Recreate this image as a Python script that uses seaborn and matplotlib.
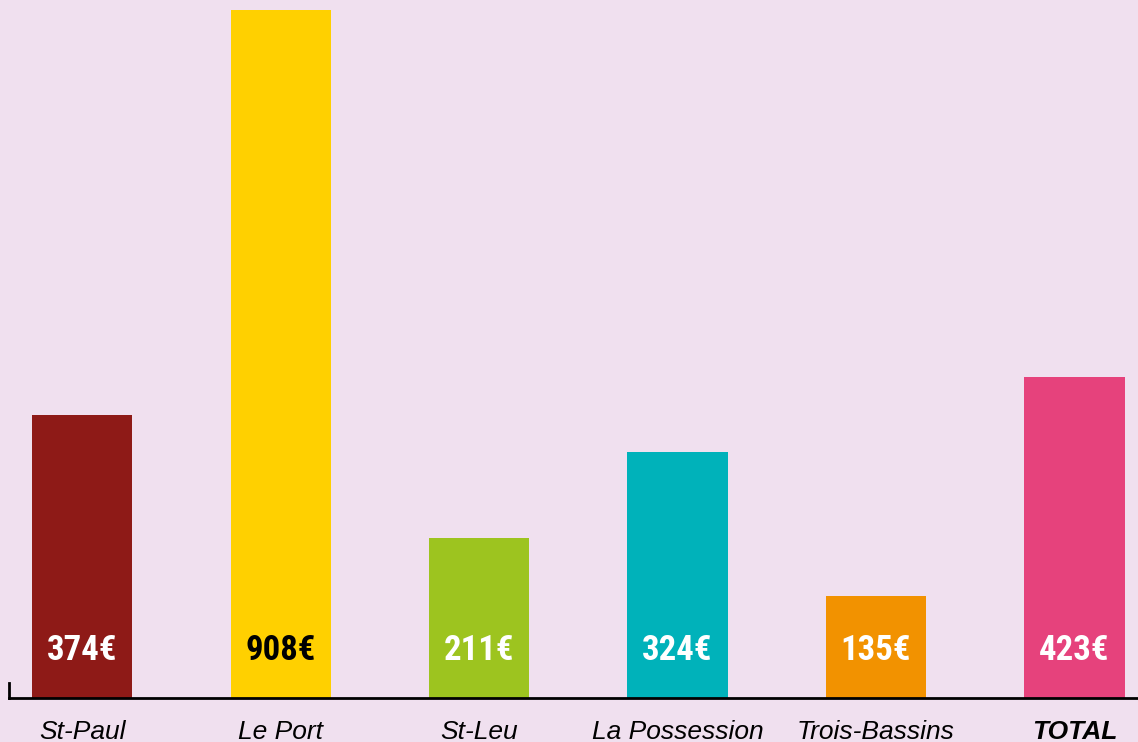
import pandas as pd
import matplotlib.pyplot as plt
import seaborn as sns

communes = ['St-Paul', 'Le Port', 'St-Leu', 'La Possession', 'Trois-Bassins', 'TOTAL']
montants = [374, 908, 211, 324, 135, 423]
couleurs = ['#8E1A17', '#FFD000', '#9DC41F', '#00B2BA', '#F29200', '#E6427C']
couleurs_texte = ['white', 'black', 'white', 'white', 'white', 'white']

bg = '#F0E0EF'

df = pd.DataFrame({'commune': communes, 'montant': montants})

sns.set_style('white')
plt.rcParams['font.family'] = ['Liberation Sans', 'DejaVu Sans']

fig = plt.figure(figsize=(11.38, 7.42), dpi=100, facecolor=bg)
ax = fig.add_axes([9 / 1138, 44 / 742, 1129 / 1138, 698 / 742])
ax.set_facecolor(bg)

sns.barplot(data=df, x='commune', y='montant', hue='commune', palette=couleurs,
            legend=False, width=0.504, saturation=1, linewidth=0, ax=ax)

ax.set_xlim(-0.368, 5.32)
ax.set_ylim(0, 921)

# valeurs dans les barres
for i, (v, c) in enumerate(zip(montants, couleurs_texte)):
    ax.text(i, 63, f'{v}€', ha='center', va='center', color=c, fontsize=25,
            fontweight='bold',
            family=['Roboto Condensed', 'Liberation Sans Narrow', 'Roboto', 'DejaVu Sans'])

ax.set_yticks([])
ax.set_xticks(range(len(communes)))
ax.set_xticklabels(communes, fontsize=19, style='italic', color='black')
ax.get_xticklabels()[-1].set_fontweight('bold')
ax.tick_params(axis='x', length=0, pad=16)
ax.set_xlabel('')
ax.set_ylabel('')

for s in ['top', 'right']:
    ax.spines[s].set_visible(False)
ax.spines['bottom'].set_color('black')
ax.spines['bottom'].set_linewidth(2)
ax.spines['left'].set_color('black')
ax.spines['left'].set_linewidth(2)
ax.spines['left'].set_bounds(0, 20)

fig.savefig('out.png', dpi=100, facecolor=bg)
